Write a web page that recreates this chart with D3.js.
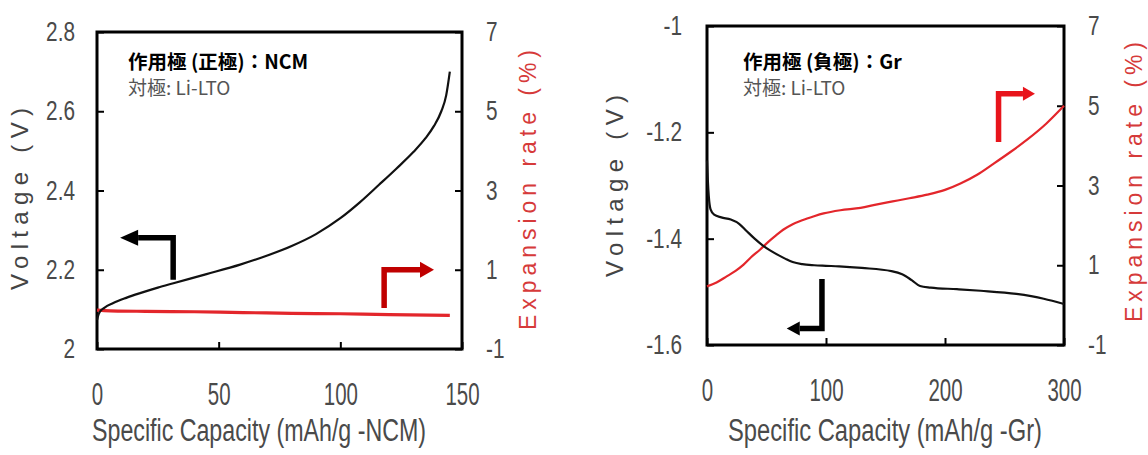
<!DOCTYPE html>
<html>
<head>
<meta charset="utf-8">
<script src="https://cdn.jsdelivr.net/npm/d3@7"></script>
<style>
body { margin: 0; background: #fff; }
</style>
</head>
<body>
<svg width="1148" height="455"></svg>
<script>
//* Left chart: working electrode NCM (voltage + expansion vs capacity)
var capNCM = [0, 0.5, 1.2, 3, 6.7, 12, 17.7, 25, 31.4, 45, 58.8, 70, 80, 90, 100, 108, 116, 123, 130, 135, 138.5, 141.5, 143.5, 145];
var voltNCM = [2.073, 2.085, 2.094, 2.104, 2.116, 2.129, 2.141, 2.155, 2.166, 2.189, 2.213, 2.236, 2.26, 2.29, 2.33, 2.37, 2.415, 2.455, 2.497, 2.532, 2.563, 2.6, 2.64, 2.70];
var capExpNCM = [0, 3, 20, 40, 60, 80, 100, 120, 145];
var expNCM = [-0.02, -0.03, -0.05, -0.06, -0.08, -0.1, -0.11, -0.13, -0.15];

//* Right chart: working electrode graphite
var capGr = [0, 0.7, 1.5, 3, 6, 12, 20, 27, 33, 40, 47, 53, 60, 66, 72, 80, 90, 100, 111, 130, 155, 164, 172, 179, 188, 210, 230, 260, 283, 300];
var voltGr = [-1.253, -1.29, -1.32, -1.345, -1.355, -1.36, -1.364, -1.372, -1.385, -1.4, -1.413, -1.422, -1.431, -1.438, -1.444, -1.448, -1.45, -1.451, -1.452, -1.455, -1.461, -1.467, -1.478, -1.489, -1.492, -1.495, -1.498, -1.504, -1.513, -1.523];
var capExpGr = [0, 8, 16.5, 24, 30.5, 37, 44.5, 52, 58, 64, 72, 80, 90, 98, 112, 129, 142, 156, 170, 185, 200, 213, 227, 240, 255, 269, 285, 300];
var expGr = [0.47, 0.57, 0.72, 0.86, 1.01, 1.2, 1.39, 1.6, 1.75, 1.89, 2.03, 2.13, 2.23, 2.3, 2.38, 2.44, 2.52, 2.6, 2.68, 2.77, 2.89, 3.05, 3.27, 3.53, 3.84, 4.15, 4.55, 5.0];

//* tick labels
var capTicksNCM = [0, 50, 100, 150];
var voltTicksNCM = [2, 2.2, 2.4, 2.6, 2.8];
var capTicksGr = [0, 100, 200, 300];
var voltTicksGr = [-1.6, -1.4, -1.2, -1];
var expTicks = [-1, 1, 3, 5, 7];

var svg = d3.select('svg');

var numFont = "'Liberation Sans', Arial, sans-serif";
var cjkFont = "'Noto Sans CJK JP', 'Noto Sans', sans-serif";

function zip(a, b) {
  return a.map(function (d, i) { return [d, b[i]]; });
}

//* narrow the tick glyphs (reference uses a condensed face)
function squeeze(sel, k) {
  sel.each(function () {
    var t = d3.select(this);
    var x0 = +t.attr('x') || 0;
    t.attr('x', x0 / k).attr('transform', 'scale(' + k + ',1)');
  });
}

function drawArrow(g, pts, color, w, headLen, headHalf) {
  var tip = pts[2], corner = pts[1];
  var dir = tip[0] > corner[0] ? 1 : -1;
  var base = [tip[0] - dir * headLen, tip[1]];
  g.append('path')
    .attr('d', d3.line()([pts[0], corner, base]))
    .attr('fill', 'none')
    .attr('stroke', color)
    .attr('stroke-width', w)
    .attr('stroke-linejoin', 'miter');
  g.append('path')
    .attr('d', 'M' + tip[0] + ',' + tip[1] + 'L' + base[0] + ',' + (tip[1] - headHalf) + 'L' + base[0] + ',' + (tip[1] + headHalf) + 'Z')
    .attr('fill', color);
}

function drawPanel(p) {
  var g = svg.append('g');

  var x = d3.scaleLinear().domain(p.xDomain).range([p.left, p.right]);
  var yV = d3.scaleLinear().domain(p.vDomain).range([p.bottom, p.top]);
  var yE = d3.scaleLinear().domain([-1, 7]).range([p.bottom, p.top]);

  //* axes with inward ticks
  var ax = g.append('g').attr('transform', 'translate(0,' + p.bottom + ')')
    .call(d3.axisBottom(x).tickValues(p.xTicks).tickSizeInner(-7).tickSizeOuter(0).tickPadding(34).tickFormat(function (d) { return d; }));
  var ayl = g.append('g').attr('transform', 'translate(' + p.left + ',0)')
    .call(d3.axisLeft(yV).tickValues(p.vTicks).tickSizeInner(-7).tickSizeOuter(0).tickPadding(p.padL).tickFormat(function (d) { return d; }));
  var ayr = g.append('g').attr('transform', 'translate(' + p.right + ',0)')
    .call(d3.axisRight(yE).tickValues(expTicks).tickSizeInner(-7).tickSizeOuter(0).tickPadding(24).tickFormat(function (d) { return d; }));

  [ax, ayl, ayr].forEach(function (a) {
    a.select('.domain').remove();
    a.selectAll('line').attr('stroke', '#000').attr('stroke-width', 2);
    a.selectAll('text').attr('font-family', numFont).attr('fill', '#4a4a4a').attr('font-size', 27);
  });
  ax.selectAll('text').attr('font-size', 31);
  squeeze(ax.selectAll('text'), 0.66);
  squeeze(ayl.selectAll('text'), 0.77);
  squeeze(ayr.selectAll('text'), 0.77);

  g.append('rect')
    .attr('x', p.left).attr('y', p.top)
    .attr('width', p.right - p.left).attr('height', p.bottom - p.top)
    .attr('fill', 'none').attr('stroke', '#000').attr('stroke-width', 3);

  //* curves
  var line = d3.line().x(function (d) { return x(d[0]); }).curve(d3.curveMonotoneX);

  g.append('path')
    .attr('d', line.y(function (d) { return yE(d[1]); })(p.exp))
    .attr('fill', 'none').attr('stroke', p.expColor).attr('stroke-width', p.expWidth);

  g.append('path')
    .attr('d', line.y(function (d) { return yV(d[1]); })(p.volt))
    .attr('fill', 'none').attr('stroke', '#111').attr('stroke-width', 2.2);

  //* arrows pointing at the matching axis
  var bA = p.blackArrow, rA = p.redArrow;
  drawArrow(g, [[x(bA[0]), yV(bA[1])], [x(bA[0]), yV(bA[2])], [x(bA[3]), yV(bA[2])]], '#000', 5.5, p.blackHead[0], p.blackHead[1]);
  drawArrow(g, [[x(rA[0]), yE(rA[1])], [x(rA[0]), yE(rA[2])], [x(rA[3]), yE(rA[2])]], p.arrowColor, 5.5, p.redHead[0], p.redHead[1]);

  //* electrode note
  g.append('text')
    .attr('x', p.noteX).attr('y', 69)
    .attr('font-family', cjkFont).attr('font-weight', 'bold').attr('font-size', 19.5)
    .attr('fill', '#000')
    .text(p.note);
  g.append('text')
    .attr('x', p.noteX).attr('y', 95)
    .attr('font-family', cjkFont).attr('font-size', 19)
    .attr('fill', '#555')
    .text('対極: Li-LTO');

  //* axis titles
  g.append('text')
    .attr('x', p.xTitleX).attr('y', 441)
    .attr('text-anchor', 'middle')
    .attr('font-family', numFont).attr('font-size', 31).attr('fill', '#4a4a4a')
    .attr('textLength', p.xTitleLen).attr('lengthAdjust', 'spacingAndGlyphs')
    .text(p.xTitle);

  g.append('text')
    .attr('transform', 'translate(' + p.vTitleX + ',' + p.vTitleY + ') rotate(-90)')
    .attr('text-anchor', 'middle').attr('dy', '0.35em')
    .attr('font-family', numFont).attr('font-size', 24).attr('fill', '#444')
    .attr('textLength', 182).attr('lengthAdjust', 'spacing')
    .text('Voltage (V)');

  g.append('text')
    .attr('transform', 'translate(' + p.eTitleX + ',' + p.eTitleY + ') rotate(-90)')
    .attr('text-anchor', 'middle').attr('dy', '0.35em')
    .attr('font-family', numFont).attr('font-size', 23).attr('fill', '#d63a3a')
    .attr('textLength', 280).attr('lengthAdjust', 'spacing')
    .text('Expansion rate (%)');
}

drawPanel({
  left: 97, right: 462, top: 32, bottom: 349,
  xDomain: [0, 150], vDomain: [2, 2.8],
  xTicks: capTicksNCM, vTicks: voltTicksNCM, padL: 22,
  volt: zip(capNCM, voltNCM), exp: zip(capExpNCM, expNCM),
  expColor: '#e3262b', expWidth: 3.2, arrowColor: '#c00000',
  blackArrow: [31.3, 2.175, 2.281, 9.5], blackHead: [18, 8],
  redArrow: [118, 0.035, 1.0, 138.5], redHead: [14, 8],
  note: '作用極 (正極)：NCM', noteX: 128,
  xTitle: 'Specific Capacity (mAh/g -NCM)', xTitleX: 259, xTitleLen: 334,
  vTitleX: 20, vTitleY: 199, eTitleX: 528, eTitleY: 190
});

drawPanel({
  left: 707, right: 1064, top: 26, bottom: 345,
  xDomain: [0, 300], vDomain: [-1.6, -1],
  xTicks: capTicksGr, vTicks: voltTicksGr, padL: 25,
  volt: zip(capGr, voltGr), exp: zip(capExpGr, expGr),
  expColor: '#e3262b', expWidth: 2.2, arrowColor: '#e8141b',
  blackArrow: [96.6, -1.476, -1.569, 67], blackHead: [13, 7],
  redArrow: [245, 4.09, 5.3, 275.6], redHead: [12, 7],
  note: '作用極 (負極)：Gr', noteX: 743,
  xTitle: 'Specific Capacity (mAh/g -Gr)', xTitleX: 885, xTitleLen: 314,
  vTitleX: 615, vTitleY: 186, eTitleX: 1134, eTitleY: 182
});
</script>
</body>
</html>
